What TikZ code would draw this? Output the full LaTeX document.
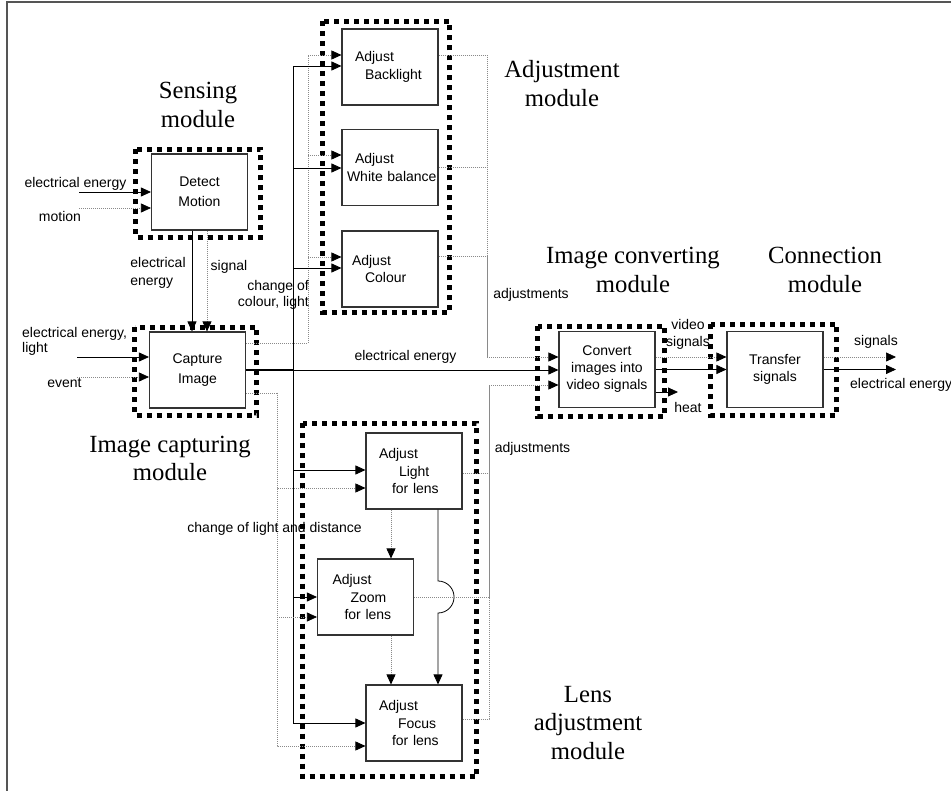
\documentclass[tikz,border=0pt]{standalone}
\usepackage{fontspec}
\setmainfont{Liberation Serif}
\setsansfont{Liberation Sans}
\usepackage{tikz}
\usetikzlibrary{arrows.meta,calc}
\definecolor{boxgray}{HTML}{333333}
\definecolor{dotgray}{HTML}{8A8A8A}
\definecolor{edgegray}{HTML}{555555}

\begin{document}
\begin{tikzpicture}[
  x=1pt, y=-1pt,
  >={Triangle[length=10pt,width=9pt,color=black,fill=black]},
  font=\sffamily\fontsize{14}{17.5}\selectfont,
  funcbox/.style={
    draw=boxgray,
    fill=white,
    line width=1.1pt,
    minimum width=96pt,
    minimum height=76pt,
    text width=70pt,
    inner xsep=13pt,
    inner ysep=0pt,
    align=left
  },
  cbox/.style={
    draw=boxgray,
    fill=white,
    line width=1.1pt,
    minimum width=96pt,
    minimum height=76pt,
    inner sep=2pt,
    align=center,
    font=\sffamily\fontsize{14}{20}\selectfont
  },
  flow/.style={
    ->,
    line width=0.8pt,
    draw=black
  },
  sig/.style={
    ->,
    line width=0.7pt,
    draw=dotgray,
    dash pattern=on 1pt off 1pt
  },
  sigline/.style={
    line width=0.7pt,
    draw=dotgray,
    dash pattern=on 1pt off 1pt
  },
  modframe/.style={
    draw=black,
    line width=5pt,
    dash pattern=on 5pt off 5pt
  },
  lbl/.style={inner sep=0pt},
  modlbl/.style={
    inner sep=0pt,
    align=center,
    font=\rmfamily\fontsize{24.7}{28.5}\selectfont
  }
]
  \useasboundingbox (0,0) rectangle (951,791);

  % -------------------------------------------------------------
  % PAGE EDGE
  % -------------------------------------------------------------
  \draw[edgegray, line width=1.5pt] (7,791) -- (7,2) -- (951,2);

  % -------------------------------------------------------------
  % MODULE FRAMES
  % -------------------------------------------------------------
  \draw[modframe] (135.5,149.5) rectangle (260.5,237.5); % sensing
  \draw[modframe] (134.5,327.5) rectangle (256.5,415.5); % image capturing
  \draw[modframe] (322.5,21.5) rectangle (449.5,312.5);  % adjustment
  \draw[modframe] (302.5,423.5) rectangle (476.5,776.5); % lens adjustment
  \draw[modframe] (537.5,326.5) rectangle (664.5,416.5); % image converting
  \draw[modframe] (710.5,324.5) rectangle (836.5,415.5); % connection

  % -------------------------------------------------------------
  % FUNCTION BOXES
  % -------------------------------------------------------------
  \node[cbox] (det) at (199.5,192) {Detect\\Motion};
  \node[cbox] (cap) at (197.5,370) {Capture\\Image};

  \node[funcbox] (back)  at (390,67)    {Adjust\\\hspace*{10pt}Backlight};
  \node[funcbox] (white) at (390,167.5) {Adjust\\\hspace*{-8pt}\mbox{White balance}};
  \node[funcbox] (col)   at (390,269)   {\hspace*{-3pt}Adjust\\\hspace*{10pt}Colour};

  \node[funcbox] (light) at (414,471)   {Adjust\\\hspace*{20pt}Light\\\hspace*{13pt}for lens};
  \node[funcbox] (zoom)  at (365.5,597) {\hspace*{2pt}Adjust\\\hspace*{20pt}Zoom\\\hspace*{14pt}for lens};
  \node[funcbox] (focus) at (414,723)   {Adjust\\\hspace*{19pt}Focus\\\hspace*{13pt}for lens};

  \node[cbox, font=\sffamily\fontsize{14}{17}\selectfont] (conv) at (607,369.5) {Convert\\images into\\video signals};
  \node[cbox, font=\sffamily\fontsize{14}{16.5}\selectfont] (trans) at (775,369.5) {Transfer\\signals};

  % free ends and bus points
  \coordinate (detin1) at (79,192);
  \coordinate (detin2) at (79,208);
  \coordinate (capin1) at (77,357);
  \coordinate (capin2) at (77,377);
  \coordinate (cdot) at (308,343);
  \coordinate (csol) at (293,370);
  \coordinate (clow) at (277,393);
  \coordinate (ajb) at (487,357);
  \coordinate (lb) at (489,385);
  \coordinate (heatend) at (678,392);
  \coordinate (sigend) at (896,357);
  \coordinate (elend) at (896,369.5);

  % -------------------------------------------------------------
  % SENSING AND CAPTURING
  % -------------------------------------------------------------
  \draw[flow] (detin1) -- (detin1 -| det.west);
  \draw[sig] (detin2) -- (detin2 -| det.west);
  \draw[flow] ($(det.south)+(-7.5,0)$) -- ($(cap.north)+(-5.5,0)$);
  \draw[sig] ($(det.south)+(7.5,0)$) -- ($(cap.north)+(9.5,0)$);
  \draw[flow] (capin1) -- (capin1 -| cap.west);
  \draw[sig] (capin2) -- (capin2 -| cap.west);

  % -------------------------------------------------------------
  % CAPTURE IMAGE TO ADJUSTMENT MODULE
  % -------------------------------------------------------------
  \draw[sigline] ($(cap.east)+(0,-27)$) -- (cdot);
  \draw[sig] (cdot) |- ($(back.west)+(0,-12)$);
  \draw[sig] (cdot) |- ($(white.west)+(0,-12.5)$);
  \draw[sig] (cdot) |- ($(col.west)+(0,-12)$);

  \draw[line width=1.8pt] (cap.east) -- (csol);
  \draw[flow] (csol) |- ($(back.west)+(0,-1)$);
  \draw[flow] (csol) |- ($(white.west)+(0,0.5)$);
  \draw[flow] (csol) |- ($(col.west)+(0,-1)$);
  \draw[flow] (csol) |- ($(light.west)+(0,-1)$);
  \draw[flow] (csol) |- (zoom.west);
  \draw[flow] (csol) |- (focus.west);
  \draw[flow] (csol) -- (csol -| conv.west);

  \draw[sigline] ($(cap.east)+(0,23)$) -- (clow);
  \draw[sig] (clow) |- ($(light.west)+(0,17)$);
  \draw[sig] (clow) |- ($(zoom.west)+(0,20)$);
  \draw[sig] (clow) |- ($(focus.west)+(0,23)$);

  % -------------------------------------------------------------
  % ADJUSTMENTS TO IMAGE CONVERTING
  % -------------------------------------------------------------
  \draw[sigline] ($(back.east)+(0,-12)$) -| (ajb);
  \draw[sigline] (white.east) -| (ajb);
  \draw[sigline] ($(col.east)+(0,-13)$) -| (ajb);
  \draw[sig] (ajb) -- (ajb -| conv.west);

  % lens chain
  \draw[sig] ($(light.south)+(-23,0)$) -- ($(zoom.north)+(25.5,0)$);
  \draw[sig] ($(zoom.south)+(25.5,0)$) -- ($(focus.north)+(-23,0)$);
  \draw[flow] ($(light.south)+(24,0)$) -- ($(zoom.east)+(24,-16)$)
    arc[start angle=90, end angle=-90, radius=16pt] -- ($(focus.north)+(24,0)$);

  \draw[sigline] ($(light.east)+(0,2)$) -| (lb);
  \draw[sigline] (zoom.east) -| (lb);
  \draw[sigline] ($(focus.east)+(0,-4)$) -| (lb);
  \draw[sig] (lb) -- (lb -| conv.west);

  % -------------------------------------------------------------
  % CONVERTING AND CONNECTION
  % -------------------------------------------------------------
  \draw[sig] ($(conv.east)+(0,-12.5)$) -- ($(trans.west)+(0,-12.5)$);
  \draw[flow] (conv.east) -- (trans.west);
  \draw[flow] (conv.east |- heatend) -- (heatend);
  \draw[sig] (trans.east |- sigend) -- (sigend);
  \draw[flow] (trans.east) -- (elend);

  % -------------------------------------------------------------
  % FLOW LABELS
  % -------------------------------------------------------------
  \node[lbl] (eeDet) at (75.5,184) {electrical energy};
  \node[lbl] (motion) at (60,216) {motion};
  \node[lbl, align=left, font=\sffamily\fontsize{14}{18}\selectfont] (eeDown) at (158,273) {electrical\\energy};
  \node[lbl] (signal) at (229,267) {signal};
  \node[lbl, align=left, anchor=west, font=\sffamily\fontsize{14}{15}\selectfont] (eeCap) at (22,341) {electrical energy,\\light};
  \node[lbl] (event) at (64.5,383) {event};
  \node[lbl, align=right, anchor=east, font=\sffamily\fontsize{14}{16}\selectfont] (chCol) at (309,295) {change of\\colour, light};
  \node[lbl] (adjTop) at (531,295) {adjustments};
  \node[lbl] (eeMid) at (405.5,357) {electrical energy};
  \node[lbl, align=center, font=\sffamily\fontsize{14}{17}\selectfont] (video) at (688,334.5) {video\\signals};
  \node[lbl] (heat) at (688,407) {heat};
  \node[lbl] (sigOut) at (876,342) {signals};
  \node[lbl, anchor=west] (eeOut) at (850,385) {electrical energy};
  \node[lbl] (adjLow) at (532.5,449) {adjustments};
  \node[lbl, anchor=east] (chLight) at (362,529) {change of light and distance};

  % -------------------------------------------------------------
  % MODULE NAMES
  % -------------------------------------------------------------
  \node[modlbl] (mSense) at (198,105) {Sensing\\module};
  \node[modlbl] (mCap) at (170,458.5) {Image capturing\\module};
  \node[modlbl] (mAdj) at (562,83.5) {Adjustment\\module};
  \node[modlbl] (mConv) at (633,270) {Image converting\\module};
  \node[modlbl] (mConn) at (825,270) {Connection\\module};
  \node[modlbl] (mLens) at (588,723) {Lens\\adjustment\\module};

\end{tikzpicture}
\end{document}
